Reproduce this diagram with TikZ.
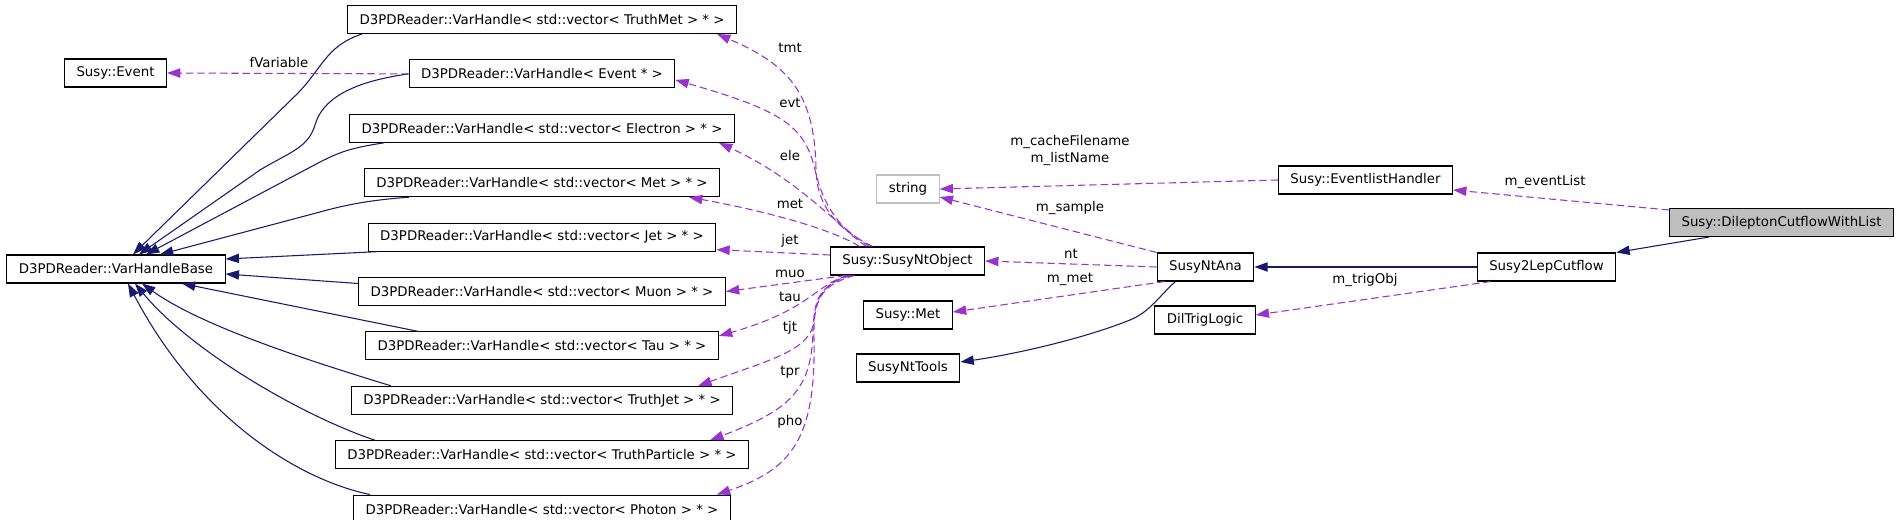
\documentclass[tikz,border=0pt]{standalone}
\usepackage{fontspec}
\setmainfont{DejaVu Sans}
\usetikzlibrary{positioning,arrows.meta,calc}

\definecolor{inheritblue}{HTML}{191970}
\definecolor{usepurple}{HTML}{9A32CD}
\definecolor{boxgrey}{HTML}{BFBFBF}

\begin{document}
\begin{tikzpicture}[
    x=0.75pt, y=-0.75pt,
    node distance=19pt,
    cls/.style={draw=black, line width=0.8pt, fill=white, minimum height=21pt, inner xsep=9pt, inner ysep=0pt, font=\fontsize{10}{12}\selectfont},
    extbox/.style={cls, draw=boxgrey},
    focus/.style={cls, fill=boxgrey},
    inherit/.style={-{Triangle[length=10pt, width=7pt]}, inheritblue, line width=0.8pt},
    usage/.style={-{Triangle[length=10pt, width=7pt]}, usepurple, line width=0.8pt, dash pattern=on 5.5pt off 3pt},
    lbl/.style={anchor=base, inner sep=0pt, text=black, align=center, font=\fontsize{10}{12.75}\selectfont}
]
\path[use as bounding box, fill=white] (0,0) rectangle (1901,520);

% Nodes
\node[cls] (event) at (115.5,73) {Susy::Event};
\node[cls] (vhbase) at (116,269) {D3PDReader::VarHandleBase};
\node[cls] (vhtmet) at (542,19.5) {D3PDReader::VarHandle< std::vector< TruthMet > * >};
\node[cls, below=of vhtmet] (vhevent) {D3PDReader::VarHandle< Event * >};
\node[cls, below=of vhevent] (vhele) {D3PDReader::VarHandle< std::vector< Electron > * >};
\node[cls, below=of vhele] (vhmet) {D3PDReader::VarHandle< std::vector< Met > * >};
\node[cls, below=of vhmet] (vhjet) {D3PDReader::VarHandle< std::vector< Jet > * >};
\node[cls, below=of vhjet] (vhmuon) {D3PDReader::VarHandle< std::vector< Muon > * >};
\node[cls, below=of vhmuon] (vhtau) {D3PDReader::VarHandle< std::vector< Tau > * >};
\node[cls, below=of vhtau] (vhtjet) {D3PDReader::VarHandle< std::vector< TruthJet > * >};
\node[cls, below=of vhtjet] (vhtpart) {D3PDReader::VarHandle< std::vector< TruthParticle > * >};
\node[cls, below=of vhtpart] (vhphoton) {D3PDReader::VarHandle< std::vector< Photon > * >};
\node[extbox] (str) at (908,189) {string};
\node[cls] (ntobj) at (907.5,261) {Susy::SusyNtObject};
\node[cls] (susymet) at (908,315) {Susy::Met};
\node[cls] (nttools) at (908,368) {SusyNtTools};
\node[cls] (ntana) at (1205.5,267) {SusyNtAna};
\node[cls] (diltrig) at (1205,320) {DilTrigLogic};
\node[cls] (evlist) at (1365.5,180) {Susy::EventlistHandler};
\node[cls] (cutflow) at (1546.5,267) {Susy2LepCutflow};
\node[focus] (dilep) at (1781.5,222.5) {Susy::DileptonCutflowWithList};

% Arrows
\draw[inherit] ($(vhtmet.south west)+(15,0)$) .. controls (325,46) and (322,70) .. (295,96) -- ($(vhbase.north)+(17,0)$);
\draw[inherit] (vhevent.west) .. controls (350,82) and (322,100) .. (315,125) .. controls (308,148) and (290,152) .. (260,170) -- ($(vhbase.north)+(23,0)$);
\draw[inherit] ($(vhele.south west)+(35,0)$) .. controls (350,148) and (340,152) .. (320,162) -- ($(vhbase.north)+(30,0)$);
\draw[inherit] ($(vhmet.south west)+(45,0)$) .. controls (370,200) and (345,205) .. (320,212) -- ($(vhbase.north)+(44,0)$);
\draw[inherit] ($(vhjet.south west)+(10,0)$) -- ($(vhbase.east)+(0,-10)$);
\draw[inherit] ($(vhmuon.west)+(0,-8)$) -- ($(vhbase.east)+(0,5)$);
\draw[inherit] ($(vhtau.north west)+(53,0)$) -- ($(vhbase.south)+(66,0)$);
\draw[inherit] ($(vhtjet.north west)+(40,0)$) .. controls (300,358) and (200,325) .. ($(vhbase.south)+(26,0)$);
\draw[inherit] ($(vhtpart.north west)+(40,0)$) .. controls (300,415) and (190,350) .. ($(vhbase.south)+(19,0)$);
\draw[inherit] ($(vhphoton.north west)+(17,0)$) .. controls (300,480) and (200,420) .. ($(vhbase.south)+(12,0)$);
\draw[inherit] ($(ntana.south)+(-30,0)$) .. controls (1160,295) and (1150,312) .. (1130,320) .. controls (1080,340) and (1010,355) .. ($(nttools.east)+(0,-6)$);
\draw[inherit] (cutflow.west) -- (ntana.east);
\draw[inherit] ($(dilep.south west)+(40,0)$) -- (cutflow.north east);

\draw[usage] (vhevent.west) -- (event.east) node[lbl] at (279,68) {fVariable};
\draw[usage] ($(ntobj.north)+(-35,0)$) .. controls (835,228) and (817,205) .. (816,170) .. controls (815,95) and (790,65) .. ($(vhtmet.south east)+(-20,0)$) node[lbl] at (790,53) {tmt};
\draw[usage] ($(ntobj.north)+(-41,0)$) .. controls (835,225) and (822,200) .. (815,170) .. controls (805,125) and (780,110) .. ($(vhevent.east)+(0,6)$) node[lbl] at (790,108) {evt};
\draw[usage] ($(ntobj.north)+(-38,0)$) .. controls (835,225) and (800,180) .. ($(vhele.south east)+(-16,0)$) node[lbl] at (790,161) {ele};
\draw[usage] ($(ntobj.north)+(-48,0)$) .. controls (830,228) and (760,210) .. ($(vhmet.south east)+(-31,0)$) node[lbl] at (790,209) {met};
\draw[usage] ($(ntobj.west)+(0,-6)$) -- ($(vhjet.south east)+(0,-2)$) node[lbl] at (790,245) {jet};
\draw[usage] ($(ntobj.south)+(-62,0)$) -- (vhmuon.east) node[lbl] at (790,277) {muo};
\draw[usage] ($(ntobj.south)+(-60,0)$) .. controls (815,285) and (810,310) .. ($(vhtau.east)+(0,-10)$) node[lbl] at (790,301) {tau};
\draw[usage] ($(ntobj.south)+(-58,0)$) .. controls (820,285) and (815,300) .. (814,320) .. controls (812,350) and (770,360) .. ($(vhtjet.north east)+(-35,0)$) node[lbl] at (790,331) {tjt};
\draw[usage] ($(ntobj.south)+(-56,0)$) .. controls (822,282) and (814,300) .. (813,330) .. controls (812,390) and (790,410) .. ($(vhtpart.north east)+(-39,0)$) node[lbl] at (790,375) {tpr};
\draw[usage] ($(ntobj.south)+(-53,0)$) .. controls (820,285) and (813,300) .. (814,340) .. controls (816,440) and (790,470) .. ($(vhphoton.north east)+(-14,0)$) node[lbl] at (790,425) {pho};
\draw[usage] (ntana.west) -- (ntobj.east) node[lbl] at (1071,258) {nt};
\draw[usage] (ntana.north west) -- ($(str.east)+(0,8)$) node[lbl] at (1070,212) {m\_sample};
\draw[usage] (evlist.west) -- (str.east) node[lbl] at (1070,163) {m\_cacheFilename\\m\_listName};
\draw[usage] ($(ntana.south west)+(8,0)$) -- ($(susymet.east)+(0,-3)$) node[lbl] at (1070,282) {m\_met};
\draw[usage] ($(dilep.north west)+(0,2)$) -- ($(evlist.east)+(0,10)$) node[lbl] at (1545,186) {m\_eventList};
\draw[usage] ($(cutflow.south west)+(14,0)$) -- ($(diltrig.east)+(0,-5)$) node[lbl] at (1365,283) {m\_trigObj};

\end{tikzpicture}
\end{document}
